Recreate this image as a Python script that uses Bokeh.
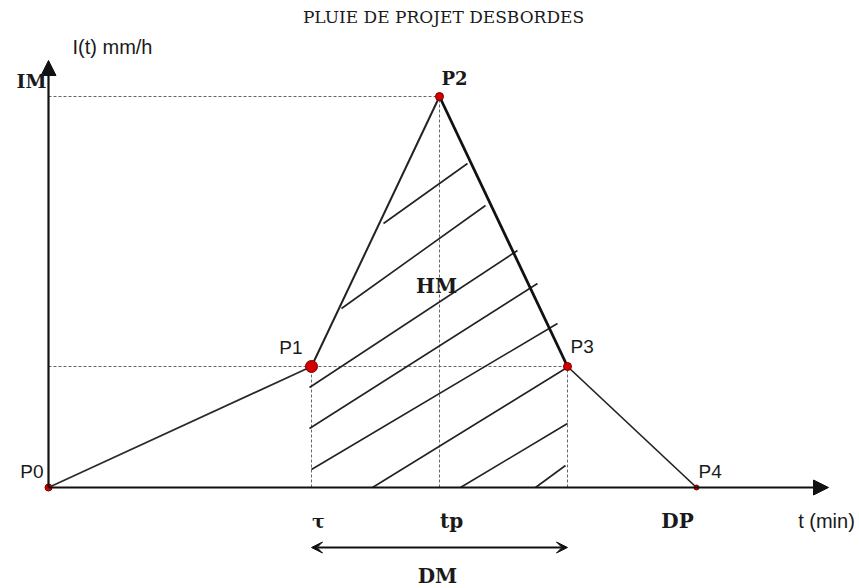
from bokeh.plotting import figure
from bokeh.models import Range1d, Label, Arrow, NormalHead, VeeHead, ColumnDataSource
from bokeh.embed import file_html
from bokeh.resources import INLINE

# ---- data (schematic units: t in relative minutes, I in relative mm/h) ----
point_names = ["P0", "P1", "P2", "P3", "P4"]
point_t = [0, 263, 391, 519, 648]
point_i = [0, 121, 391, 121, 0]

# hatch strokes inside the HM zone (start t, start I, end t, end I)
hatch_t0 = [335, 293, 261, 261, 263, 324, 412, 487]
hatch_i0 = [264, 179, 100, 59, 18, 0, 0, 0]
hatch_t1 = [419, 437, 469, 489, 509, 517, 519, 517]
hatch_i1 = [324, 282, 237, 204, 164, 119, 64, 22]

t_axis_end = 780
i_axis_end = 427

# ---- styles ----
seg_widths = [1.7, 2.0, 2.8, 1.7]
seg_colors = ["#2a2a2a", "#222222", "#111111", "#222222"]
dot_sizes = [7, 12, 8, 8, 5]

p = figure(width=859, height=588, output_backend="svg", toolbar_location=None,
           x_range=Range1d(-48, 811), y_range=Range1d(-101, 487),
           x_axis_type=None, y_axis_type=None,
           min_border=0, min_border_left=0, min_border_right=0,
           min_border_top=0, min_border_bottom=0)
p.outline_line_color = None
p.background_fill_color = "white"
p.border_fill_color = "white"

# dashed guide lines
dash_src = ColumnDataSource(dict(
    x0=[0, 0, point_t[1], point_t[2], point_t[3]],
    y0=[point_i[2], point_i[1], 0, 0, 0],
    x1=[point_t[2], point_t[3], point_t[1], point_t[2], point_t[3]],
    y1=[point_i[2], point_i[1], point_i[1], point_i[2], point_i[3]],
))
p.segment("x0", "y0", "x1", "y1", source=dash_src, line_color="#666666",
          line_width=1, line_dash="3 2")

# hatch
hatch_src = ColumnDataSource(dict(x0=hatch_t0, y0=hatch_i0, x1=hatch_t1, y1=hatch_i1))
p.segment("x0", "y0", "x1", "y1", source=hatch_src, line_color="#222222", line_width=1.6)

# hyetograph outline
seg_src = ColumnDataSource(dict(
    x0=point_t[:-1], y0=point_i[:-1], x1=point_t[1:], y1=point_i[1:],
    w=seg_widths, c=seg_colors))
p.segment("x0", "y0", "x1", "y1", source=seg_src, line_color="c", line_width="w")

# axes with arrows
p.add_layout(Arrow(x_start=0, y_start=0, x_end=0, y_end=i_axis_end, line_width=2.2,
                   line_color="#111111",
                   end=NormalHead(size=15, fill_color="#111111", line_color="#111111")))
p.add_layout(Arrow(x_start=0, y_start=0, x_end=t_axis_end, y_end=0, line_width=2.2,
                   line_color="#111111",
                   end=NormalHead(size=15, fill_color="#111111", line_color="#111111")))

# DM double arrow
p.add_layout(Arrow(x_start=point_t[1], y_start=-60, x_end=point_t[3], y_end=-60,
                   line_width=2, line_color="#111111",
                   start=VeeHead(size=11, fill_color="#111111", line_color="#111111"),
                   end=VeeHead(size=11, fill_color="#111111", line_color="#111111")))

# points
p.scatter(point_t, point_i, size=dot_sizes, fill_color="#d40000", line_color="#7a0000",
          line_width=1)

SERIF = "DejaVu Serif"
SANS = "Liberation Sans"


def lab(x, y, text, font, size, style="normal", align="left", baseline="middle",
        color="#1a1a1a"):
    p.add_layout(Label(x=x, y=y, text=text, text_font=font, text_font_size=f"{size}px",
                       text_font_style=style, text_align=align, text_baseline=baseline,
                       text_color=color))


lab(395, 471, "PLUIE DE PROJET DESBORDES", SERIF, 17, align="center")
lab(24, 441, "I(t) mm/h", SANS, 20)
lab(-2, 407, "IM", SERIF, 19, style="bold", align="right")
lab(point_t[2] + 2, 409, point_names[2], SERIF, 18, style="bold")
lab(point_t[1] - 9, 140, point_names[1], SANS, 19, align="right")
lab(point_t[3] + 3, 141, point_names[3], SANS, 19)
lab(-5, 16, point_names[0], SANS, 19, align="right")
lab(point_t[4] + 2, 16, point_names[4], SANS, 19)
lab(388, 202, "HM", SERIF, 20, style="bold", align="center")
lab(270, -33, "τ", SERIF, 19, style="bold", align="center", baseline="alphabetic")
lab(403, -33, "tp", SERIF, 20, style="bold", align="center", baseline="alphabetic")
lab(629, -33, "DP", SERIF, 20, style="bold", align="center", baseline="alphabetic")
lab(778, -33, "t (min)", SANS, 20, align="center", baseline="alphabetic")
lab(389, -88, "DM", SERIF, 20, style="bold", align="center")

open("out.html", "w").write(file_html(p, INLINE))
